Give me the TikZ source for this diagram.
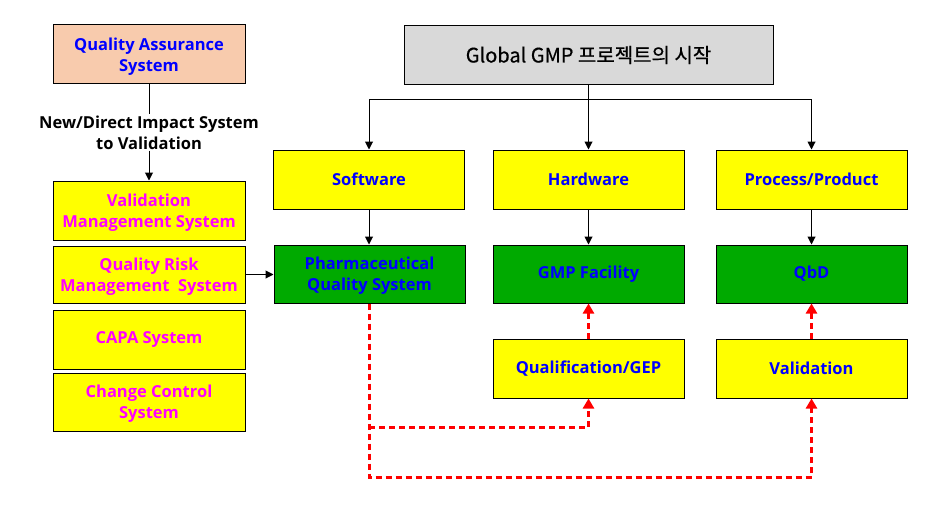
\documentclass[tikz,border=0pt]{standalone}
\usepackage{fontspec}
\setmainfont{Open Sans}
\newfontfamily\kr{Noto Sans CJK KR}[FakeBold=0.5]
\usetikzlibrary{arrows.meta}
\definecolor{peach}{HTML}{F8CBAD}
\definecolor{gbox}{HTML}{D9D9D9}
\definecolor{grn}{HTML}{00AA00}
\definecolor{ylw}{HTML}{FFFF00}
\definecolor{mag}{HTML}{FF00FF}
\definecolor{blu}{HTML}{0000FF}
\definecolor{rd}{HTML}{FF0000}
\tikzset{
  box/.style={draw=black, line width=1pt, minimum width=192pt, minimum height=59pt,
    inner sep=0pt, align=center, font=\bfseries\fontsize{16.5}{21}\selectfont},
  two/.style={text depth=0pt},
  yb/.style={box, fill=ylw},
  gb/.style={box, fill=grn},
  arr/.style={draw=black, line width=1pt, -{Triangle[length=8pt,width=8pt]}},
  ln/.style={draw=black, line width=1pt},
  rarr/.style={draw=rd, line width=3pt, dash pattern=on 6pt off 4pt,
    -{Triangle[length=10pt,width=11pt]}},
  rln/.style={draw=rd, line width=3pt, dash pattern=on 6pt off 4pt}
}
\begin{document}
\begin{tikzpicture}[x=1pt,y=-1pt]
\useasboundingbox (0,0) rectangle (925,508);
% left column
\node[box, two, fill=peach, text=blu] (qa) at (149,54.5) {Quality Assurance\\System};
\node[font=\bfseries\fontsize{16.5}{21}\selectfont, align=center, inner sep=1pt] (lbl) at (149,132.5) {New/Direct Impact System\\to Validation};
\node[yb, two, text=mag] (vms) at (149,210.5) {Validation\\Management System};
\node[yb, two, text=mag, minimum height=57pt] (qrm) at (149,274.5) {Quality Risk\\Management\ \ System};
\node[yb, text=mag] (capa) at (149,339.5) {CAPA System};
\node[yb, two, text=mag, minimum height=58pt] (cc) at (149,402) {Change Control\\System};
% top
\node[box, fill=gbox, minimum width=369pt, font=\kr\fontsize{20}{24}\selectfont] (top) at (588.5,55) {Global GMP 프로젝트의 시작};
\node[yb, text=blu, minimum width=191pt] (sw) at (369,179.5) {Software};
\node[yb, text=blu, minimum width=191pt] (hw) at (588.5,179.5) {Hardware};
\node[yb, text=blu, minimum width=191pt] (pp) at (811.5,179.5) {Process/Product};
\node[gb, two, text=blu, minimum width=191pt, minimum height=58pt] (pqs) at (369.5,274) {Pharmaceutical\\Quality System};
\node[gb, text=blu, minimum width=191pt, minimum height=58pt] (gmp) at (588.5,274) {GMP Facility};
\node[gb, text=blu, minimum width=191pt, minimum height=58pt] (qbd) at (811.5,274) {QbD};
\node[yb, text=blu, minimum width=191pt] (qg) at (588.5,368.5) {Qualification/GEP};
\node[yb, text=blu, minimum width=191pt] (val) at (811.5,368.5) {Validation};
% connectors
\coordinate (hub) at (588.5,100);
\draw[ln] (top.south) -- (hub);
\draw[arr] (hub) -| (sw.north);
\draw[arr] (hub) -- (hw.north);
\draw[arr] (hub) -| (pp.north);
\draw[arr] (sw.south) -- (sw.south |- pqs.north);
\draw[arr] (hw) -- (gmp);
\draw[arr] (pp) -- (qbd);
\draw[ln] (qa) -- (lbl);
\draw[arr] (lbl) -- (vms);
\draw[arr] (qrm.east) -- (qrm.east -| pqs.west);
% red dashed
\coordinate (b1) at (369,427);
\coordinate (b2) at (369,477);
\draw[rarr] (qg) -- (gmp);
\draw[rarr] (val) -- (qbd);
\draw[rarr] (pqs.south -| b2) -- (b2) -| (val.south);
\draw[rarr] (b1) -| (qg.south);
\end{tikzpicture}
\end{document}
